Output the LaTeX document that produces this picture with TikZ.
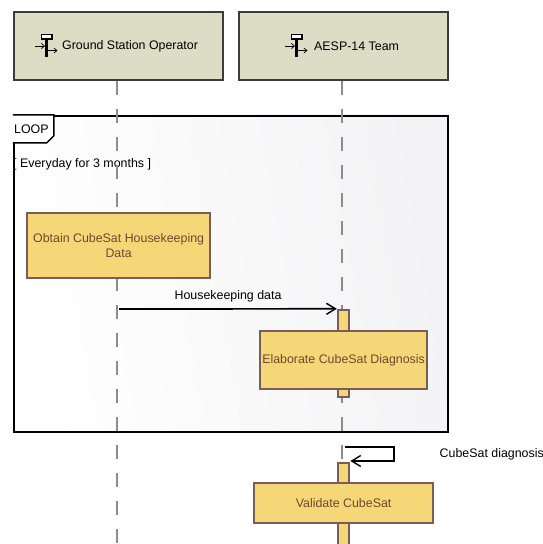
\documentclass[tikz,border=0pt]{standalone}
\usepackage{fontspec}
\setmainfont{Liberation Sans}
\usetikzlibrary{arrows.meta,calc}
\definecolor{actorfill}{HTML}{DDDCC5}
\definecolor{actordraw}{HTML}{3C3C3C}
\definecolor{actfill}{HTML}{F6D777}
\definecolor{actdraw}{HTML}{7A5C58}
\definecolor{acttext}{HTML}{6B4A30}
\definecolor{lifegray}{HTML}{8C8C8C}
\definecolor{loopend}{HTML}{F3F3F5}
\tikzset{
  px/.style={x=1pt,y=-1pt},
  actorbox/.style={draw=actordraw,fill=actorfill,line width=1.8pt,minimum width=209.3pt,minimum height=68.6pt,inner sep=0pt,anchor=north west},
  actbar/.style={draw=actdraw,fill=actfill,line width=2pt,minimum width=11.6pt,inner sep=0pt,anchor=north west},
  actionbox/.style={draw=actdraw,fill=actfill,line width=2pt,inner sep=0pt,anchor=north west,text=acttext,align=center,font=\fontsize{12.4pt}{15pt}\selectfont},
  lifeline/.style={draw=lifegray,line width=1.6pt,dash pattern=on 14pt off 14pt},
  msg/.style={draw=black,line width=1.7pt,-{Straight Barb[length=9pt,width=11pt,line width=1.4pt]}},
  lbl/.style={font=\fontsize{12.4pt}{15pt}\selectfont,inner sep=0pt,text=black},
  icon/.style={line width=.9pt,-{Straight Barb[length=3pt,width=5pt,line width=.7pt]}}
}
\newcommand{\partsymbol}[2]{%
  \fill[black] (#1-1.5,#2+4) rectangle (#1+1.5,#2+22);
  \draw[black,fill=white,line width=1.2pt] (#1-5,#2) rectangle (#1+5.5,#2+4.5);
  \draw[icon] (#1-11.5,#2+11.5) -- (#1-1.5,#2+11.5);
  \draw[icon] (#1+1.5,#2+16) -- (#1+11,#2+16);
}
\begin{document}
\begin{tikzpicture}[px]
\useasboundingbox (0,0) rectangle (543,544);
\fill[white] (0,0) rectangle (543,544);
% loop frame
\shade[left color=white,right color=loopend,shading angle=100] (12.8,114.8) rectangle (447.4,431.4);
\node[draw=black,line width=1.8pt,minimum width=434.6pt,minimum height=316.6pt,inner sep=0pt,anchor=north west] (loop) at (12.8,114.8) {};
\draw[black,line width=1.5pt,fill=white] (12.8,114.8) -- (53.8,114.8) -- (53.8,135.8) -- (46.8,142.8) -- (12.8,142.8);
\node[lbl,anchor=west] (looplabel) at (14,129.5) {LOOP};
\node[lbl,anchor=west] (guard) at (13,164.5) {[ Everyday for 3 months ]};
% actors
\node[actorbox] (op) at (12.9,10.8) {};
\node[actorbox] (team) at (238,10.8) {};
\coordinate (opend) at (116.8,544);
\coordinate (teamend) at (342.2,544);
\draw[lifeline] (op.south -| opend) -- (opend);
\draw[lifeline] (team.south -| teamend) -- (teamend);
\partsymbol{46.5}{34.5}
\partsymbol{296.5}{34.5}
\node[lbl,anchor=west] (optext) at (62,46.5) {Ground Station Operator};
\node[lbl,anchor=west] (teamtext) at (314,46.5) {AESP-14 Team};
% activations
\node[actbar,minimum height=87.6pt] (bar1) at (336.8,308.8) {};
\node[actbar,minimum height=90pt] (bar2) at (336.8,462) {};
% actions
\node[actionbox,minimum width=183.6pt,minimum height=65.6pt] (obtain) at (25.8,211.8) {Obtain CubeSat Housekeeping\\Data};
\node[actionbox,minimum width=167.6pt,minimum height=58.6pt] (elab) at (258.8,329.8) {Elaborate CubeSat Diagnosis};
\node[actionbox,minimum width=179.6pt,minimum height=40.6pt] (valid) at (252.8,481.8) {Validate CubeSat};
% messages
\coordinate (mstart) at (119,309);
\draw[msg] (mstart) -- (bar1.north west);
\node[lbl,anchor=base] (msglabel) at (228,299) {Housekeeping data};
\coordinate (selfa) at (345,447);
\coordinate (selfb) at (394,447);
\coordinate (selfc) at (394,461);
\draw[msg] (selfa) -- (selfb) -- (selfc) -- (bar2.north east |- selfc);
\node[lbl,anchor=west] (selflabel) at (439.5,454) {CubeSat diagnosis};
\end{tikzpicture}
\end{document}
